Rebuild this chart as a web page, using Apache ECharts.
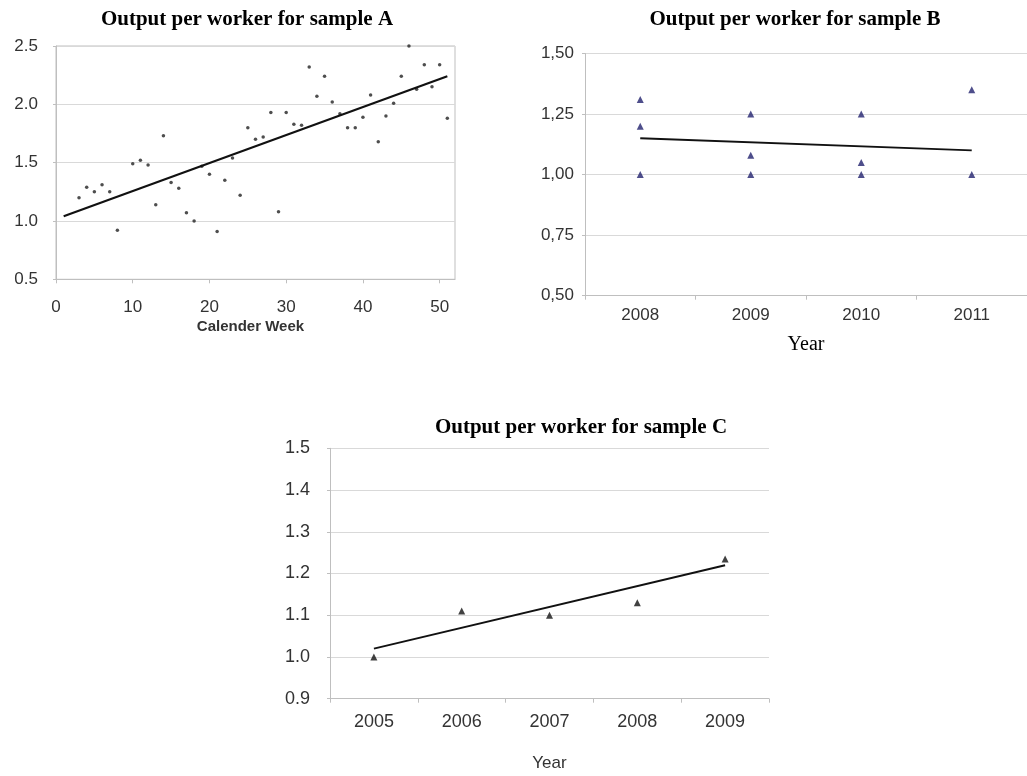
<!DOCTYPE html>
<html>
<head>
<meta charset="utf-8">
<script src="https://cdn.jsdelivr.net/npm/echarts@6/dist/echarts.min.js"></script>
<style>
html,body{margin:0;padding:0;background:#fff;}
#chart{width:1027px;height:776px;}
</style>
</head>
<body>
<div id="chart"></div>
<script>
// ---- Sample A ----
const weeksA = [3,4,5,6,7,8,10,11,12,13,14,15,16,17,18,19,20,21,22,23,24,25,26,27,28,29,30,31,32,33,34,35,36,37,38,39,40,41,42,43,44,45,46,47,48,49,50,51];
const valuesA = [1.20,1.29,1.25,1.31,1.25,0.92,1.49,1.52,1.48,1.14,1.73,1.33,1.28,1.07,1.00,1.47,1.40,0.91,1.35,1.54,1.22,1.80,1.70,1.72,1.93,1.08,1.93,1.83,1.82,2.32,2.07,2.24,2.02,1.92,1.80,1.80,1.89,2.08,1.68,1.90,2.01,2.24,2.50,2.13,2.34,2.15,2.34,1.88];
const trendA = [[1,1.04],[51,2.24]];

// ---- Sample B ----
const yearsB = ['2008','2009','2010','2011'];
const pointsB = [['2008',1.31],['2008',1.20],['2008',1.00],['2009',1.25],['2009',1.08],['2009',1.00],['2010',1.25],['2010',1.05],['2010',1.00],['2011',1.35],['2011',1.00]];
const trendB = [['2008',1.15],['2011',1.10]];

// ---- Sample C ----
const yearsC = ['2005','2006','2007','2008','2009'];
const valuesC = [1.00,1.11,1.10,1.13,1.235];
const trendC = [['2005',1.02],['2009',1.22]];

const titles = ['Output per worker for sample A','Output per worker for sample B','Output per worker for sample C'];

const chart = echarts.init(document.getElementById('chart'), null, {renderer:'canvas'});
const SANS = '"Liberation Sans", Arial, sans-serif';
const SERIF = '"Liberation Serif", "Times New Roman", serif';
const gridColor = '#d9d9d9';
const axisColor = '#bfbfbf';
const labelColor = '#333333';

function valueY(min,max,interval,fmt,size,margin){
  return {
    type:'value', min:min, max:max, interval:interval,
    axisLine:{show:true, lineStyle:{color:axisColor}},
    axisTick:{show:true, length:3, lineStyle:{color:axisColor}},
    splitLine:{show:true, lineStyle:{color:gridColor, width:1.2}},
    axisLabel:{color:labelColor, fontFamily:SANS, fontSize:size, margin:margin, formatter:fmt}
  };
}

const titleStyle = {fontFamily:SERIF, fontWeight:'bold', fontSize:21, color:'#000'};

const option = {
  animation:false,
  backgroundColor:'#fff',
  title: [
    {text:titles[0], left:242, top:4, textAlign:'center', textStyle:titleStyle},
    {text:titles[1], left:790, top:4, textAlign:'center', textStyle:titleStyle},
    {text:titles[2], left:576, top:412, textAlign:'center', textStyle:titleStyle}
  ],
  grid: [
    {left:56, top:46, width:399, height:233.3, show:true, borderColor:axisColor, borderWidth:1, backgroundColor:'transparent'},
    {left:585, top:53.5, width:447.2, height:242.2},
    {left:330, top:448.3, width:439, height:250.4}
  ],
  xAxis: [
    {gridIndex:0, type:'value', min:0, max:52, interval:10,
     name:'Calender Week', nameLocation:'middle', nameGap:40,
     nameTextStyle:{fontFamily:SANS, fontWeight:'bold', fontSize:15, color:'#333', padding:[0,10,0,0]},
     axisLine:{show:true, onZero:false, lineStyle:{color:axisColor}},
     axisTick:{show:true, length:4, lineStyle:{color:axisColor}},
     splitLine:{show:false},
     axisLabel:{color:labelColor, fontFamily:SANS, fontSize:17, margin:20, showMaxLabel:false}},
    {gridIndex:1, type:'category', data:yearsB, boundaryGap:true,
     name:'Year', nameLocation:'middle', nameGap:39,
     nameTextStyle:{fontFamily:SERIF, fontSize:20, color:'#000'},
     axisLine:{show:true, lineStyle:{color:axisColor}},
     axisTick:{show:true, length:4, lineStyle:{color:axisColor}},
     axisLabel:{color:labelColor, fontFamily:SANS, fontSize:17, margin:11}},
    {gridIndex:2, type:'category', data:yearsC, boundaryGap:true,
     name:'Year', nameLocation:'middle', nameGap:56,
     nameTextStyle:{fontFamily:SANS, fontSize:17, color:'#333'},
     axisLine:{show:true, lineStyle:{color:axisColor}},
     axisTick:{show:true, length:4, lineStyle:{color:axisColor}},
     axisLabel:{color:labelColor, fontFamily:SANS, fontSize:18, margin:14}}
  ],
  yAxis: [
    Object.assign(valueY(0.5,2.5,0.5,function(v){return v.toFixed(1);},17,18),{gridIndex:0}),
    Object.assign(valueY(0.5,1.5,0.25,function(v){return v.toFixed(2).replace('.',',');},17,11),{gridIndex:1}),
    Object.assign(valueY(0.9,1.5,0.1,function(v){return v.toFixed(1);},18,20),{gridIndex:2})
  ],
  series: [
    {type:'scatter', xAxisIndex:0, yAxisIndex:0, symbol:'circle', symbolSize:3.5,
     itemStyle:{color:'#222'}, data: weeksA.map(function(w,i){return [w, valuesA[i]];})},
    {type:'line', xAxisIndex:0, yAxisIndex:0, data:trendA, symbol:'none',
     lineStyle:{color:'#111', width:2.2}},
    {type:'scatter', xAxisIndex:1, yAxisIndex:1, symbol:'triangle', symbolSize:7,
     itemStyle:{color:'#22226e'}, data:pointsB},
    {type:'line', xAxisIndex:1, yAxisIndex:1, data:trendB, symbol:'none',
     lineStyle:{color:'#111', width:1.8}},
    {type:'scatter', xAxisIndex:2, yAxisIndex:2, symbol:'triangle', symbolSize:7,
     itemStyle:{color:'#111'}, data: yearsC.map(function(y,i){return [y, valuesC[i]];})},
    {type:'line', xAxisIndex:2, yAxisIndex:2, data:trendC, symbol:'none',
     lineStyle:{color:'#111', width:2}}
  ]
};
chart.setOption(option);
</script>
</body>
</html>
